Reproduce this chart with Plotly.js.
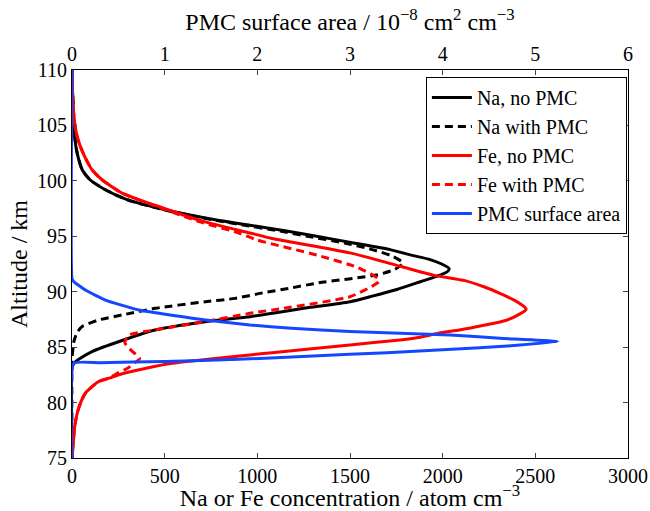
<!DOCTYPE html>
<html>
<head>
<meta charset="utf-8">
<script src="https://cdn.plot.ly/plotly-3.0.1.min.js"></script>
<style>html,body{margin:0;padding:0;background:#fff;}#chart{width:650px;height:511px;}</style>
</head>
<body>
<div id="chart"></div>
<script>
// Na, no PMC
var naNoAlt  = [110,108,106,104,103,102,101,100.1,99.2,98.3,97.4,96.5,96,95.5,95,94.4,93.8,93.3,92.9,92.5,92.1,91.8,91.4,90.9,90.2,89.6,89.1,88.5,88.1,87.75,87.3,86.55,85.6,84.6,84.0,83.7,83.4,83.2,75];
var naNoVal  = [0,3,8,15,22,35,55,97,180,297,502,772,960,1150,1320,1520,1716,1830,1932,1995,2035,2025,1970,1880,1753,1620,1500,1250,1100,960,718,448,270,108,45,20,5,0,0];
// Na with PMC
var naPmcAlt = [110,108,106,104,103,102,101,100.1,99.2,98.3,97.4,96.5,96,95.5,95,94.4,93.8,93.2,92.6,92.0,91.5,90.8,90.3,89.9,89.4,89.1,88.5,87.9,87.45,86.85,86.3,85.5,84.5,84.0,75];
var naPmcVal = [0,3,8,15,22,35,55,97,180,297,495,755,930,1110,1270,1470,1620,1730,1786,1740,1640,1330,1170,1030,880,720,448,270,144,54,27,10,3,0,0];
// Fe, no PMC
var feNoAlt  = [110,107,105,104,103.2,102.5,101.8,101,100.1,98.9,97.8,96.3,95.3,94.8,93.5,92.3,91.5,91.0,90.4,89.85,89.2,88.65,88.4,88.0,87.4,87.0,86.55,86.3,85.9,85.65,85.2,84.5,84.3,83.54,83.1,82.6,82.2,81.9,80.84,79.5,78,76,75];
var feNoVal  = [0,5,16,28,43,60,80,108,162,270,448,718,960,1079,1500,1770,1950,2120,2230,2309,2390,2440,2450,2417,2340,2230,2090,1990,1880,1770,1500,1079,960,540,400,270,200,144,72,36,16,5,0];
// Fe with PMC
var fePmcAlt = [110,107,105,104,103.2,102.5,101.8,101,100.1,98.9,97.8,96.3,95.3,94.67,93.3,92.2,91.5,91.2,90.9,90.5,89.55,88.5,88.05,87.3,86.55,86.1,85.4,84.7,84.0,83.6,83.1,82.6,82.2,81.9,80.84,79.5,78,76,75];
var fePmcVal = [0,5,16,28,43,60,80,108,162,270,440,690,900,998,1322,1540,1624,1650,1655,1620,1500,1140,960,718,448,310,285,320,365,340,300,240,200,144,72,36,16,5,0];
// PMC surface area (1e-8 cm2 cm-3), top axis
var pmcAlt   = [110,91.2,90.9,90.15,89.25,88.35,87.45,87.0,86.7,86.4,86.1,85.8,85.5,85.1,84.8,84.5,84.2,83.9,83.7,83.6,83.55,75];
var pmcVal   = [0,0,0.02,0.144,0.36,0.72,1.44,1.92,2.37,3.0,4.08,4.62,5.24,4.7,4.1,3.4,2.6,1.8,1.0,0.3,0.02,0];

var xTicks = [0,500,1000,1500,2000,2500,3000];
var yTicks = [75,80,85,90,95,100,105,110];
var topTicks = [0,1,2,3,4,5,6];

var serif = "'Liberation Serif', 'Times New Roman', Times, serif";
var blue = "#1347ff";
var sm = 0.6;

var traces = [
  {x: naNoVal, y: naNoAlt, name: "Na, no PMC", mode: "lines", line: {color: "#000", width: 3, shape: "spline", smoothing: sm}},
  {x: naPmcVal, y: naPmcAlt, name: "Na with PMC", mode: "lines", line: {color: "#000", width: 3, dash: "8px,5px", shape: "spline", smoothing: sm}},
  {x: feNoVal, y: feNoAlt, name: "Fe, no PMC", mode: "lines", line: {color: "#ff0000", width: 3, shape: "spline", smoothing: sm}},
  {x: fePmcVal, y: fePmcAlt, name: "Fe with PMC", mode: "lines", line: {color: "#ff0000", width: 3, dash: "8px,5px", shape: "spline", smoothing: sm}},
  {x: pmcVal, y: pmcAlt, name: "PMC surface area", mode: "lines", xaxis: "x2", line: {color: blue, width: 3, shape: "spline", smoothing: 0.4}}
];

var layout = {
  width: 650, height: 511,
  margin: {l: 72, r: 22, t: 70, b: 53, pad: 0},
  paper_bgcolor: "#fff", plot_bgcolor: "#fff",
  font: {family: serif, size: 20, color: "#000"},
  showlegend: true,
  legend: {x: 0.998, y: 0.982, xanchor: "right", yanchor: "top", bgcolor: "#fff",
           bordercolor: "#000", borderwidth: 1, font: {family: serif, size: 20, color: "#000"}, itemwidth: 40,
           tracegroupgap: 0},
  xaxis: {range: [0, 3000], tickvals: xTicks, ticktext: xTicks.map(String), ticks: "inside", ticklen: 5,
          showline: true, linecolor: "#000", linewidth: 1, mirror: true, showgrid: false, zeroline: false,
          tickfont: {family: serif, size: 20, color: "#000"},
          title: {text: "Na or Fe concentration / atom cm<sup>−3</sup>", font: {family: serif, size: 24, color: "#000"}, standoff: 5}},
  xaxis2: {range: [0, 6], overlaying: "x", side: "top", tickvals: topTicks, ticktext: topTicks.map(String),
           ticks: "inside", ticklen: 5, showline: true, linecolor: "#000", showgrid: false, zeroline: false,
           tickfont: {family: serif, size: 20, color: "#000"},
           title: {text: "PMC surface area / 10<sup>−8</sup> cm<sup>2</sup> cm<sup>−3</sup>", font: {family: serif, size: 24, color: "#000"}, standoff: 5}},
  yaxis: {range: [75, 110], tickvals: yTicks, ticktext: yTicks.map(String), ticks: "inside", ticklen: 5,
          showline: true, linecolor: "#000", linewidth: 1, mirror: "ticks", showgrid: false, zeroline: false,
          tickfont: {family: serif, size: 20, color: "#000"},
          title: {text: "Altitude / km", font: {family: serif, size: 24, color: "#000"}, standoff: 2}}
};

Plotly.newPlot("chart", traces, layout, {displayModeBar: false, staticPlot: true});
</script>
</body>
</html>
